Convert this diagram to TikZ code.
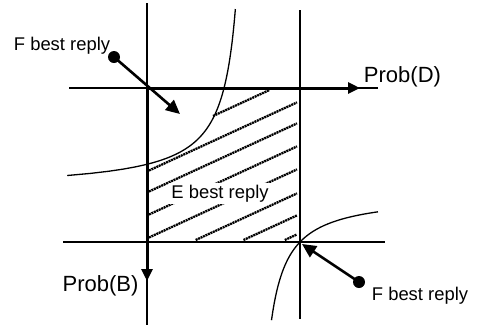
\documentclass[tikz,border=0pt]{standalone}
\usepackage{fontspec}
\setmainfont{Liberation Sans}
\usetikzlibrary{arrows.meta,positioning,calc}

\begin{document}
\begin{tikzpicture}[
  x=0.5pt, y=-0.5pt,
  thin line/.style={line width=0.55pt},
  thickaxis/.style={line width=1.5pt, -{Triangle[length=6pt, width=5.5pt]}},
  reply/.style={line width=1.3pt, -{Triangle[length=7pt, width=6.5pt]}},
  curveline/.style={line width=0.65pt},
  hatch/.style={line width=1.15pt, dash pattern=on 1pt off 0.35pt},
  dot/.style={circle, fill=black, inner sep=0pt, minimum size=6pt},
  lbl/.style={font=\fontsize{9.2}{11}\selectfont, inner sep=1pt, anchor=base},
  problbl/.style={font=\fontsize{11}{13}\selectfont, inner sep=1pt, anchor=base}
]
\useasboundingbox (0,0) rectangle (483,329);

% Corners of the square
\coordinate (origin) at (147,88);
\coordinate (corner) at (300,242);

% Thin lines
\coordinate (vltop) at (147,3);
\coordinate (vlbot) at (147,325);
\coordinate (vrtop) at (300,10);
\coordinate (vrbot) at (300,319);
\coordinate (htleft) at (69,88);
\coordinate (htright) at (378,88);
\coordinate (hbleft) at (63,242);
\coordinate (hbright) at (385,242);
\draw[thin line] (vltop) -- (vlbot);
\draw[thin line] (vrtop) -- (vrbot);
\draw[thin line] (htleft) -- (htright);
\draw[thin line] (hbleft) -- (hbright);

% Hatched region
\draw[hatch] (213,116) -- (269.5,90);
\draw[hatch] (149,170.5) -- (297,102.4);
\draw[hatch] (149,191.5) -- (297,123.4);
\draw[hatch] (149,214.5) -- (297,146.4);
\draw[hatch] (149,237.5) -- (297,169.4);
\draw[hatch] (195.7,240) -- (297,193.4);
\draw[hatch] (243.5,240) -- (297,215.4);
\draw[hatch] (284.8,240) -- (297,234.4);

% Best reply curves
\draw[curveline] plot[domain=9:175.5, samples=80, variable=\t]
  ({250-2650/(190-\t)}, \t);
\draw[curveline] plot[domain=271.5:378, samples=80, variable=\t]
  (\t, {194+2208/(\t-254)});

% Axes
\coordinate (dend) at (360,88);
\coordinate (bend) at (147,281);
\draw[thickaxis] (origin) -- (dend);
\draw[thickaxis] (origin) -- (bend);

% F best reply arrows
\node[dot] (fdot1) at (114,57) {};
\node[dot] (fdot2) at (359,282) {};
\coordinate (ftip1) at (180,114);
\coordinate (ftip2) at (302,244);
\draw[reply] (fdot1.center) -- (ftip1);
\draw[reply] (fdot2.center) -- (ftip2);

% Labels
\node[lbl] (freply1) at (62,50) {F best reply};
\node[lbl] (freply2) at (420,300) {F best reply};
\node[lbl, fill=white] (ereply) at (220,198) {E best reply};
\node[problbl] (probD) at (402.5,82) {Prob(D)};
\node[problbl] (probB) at (100.5,291) {Prob(B)};

\end{tikzpicture}
\end{document}
